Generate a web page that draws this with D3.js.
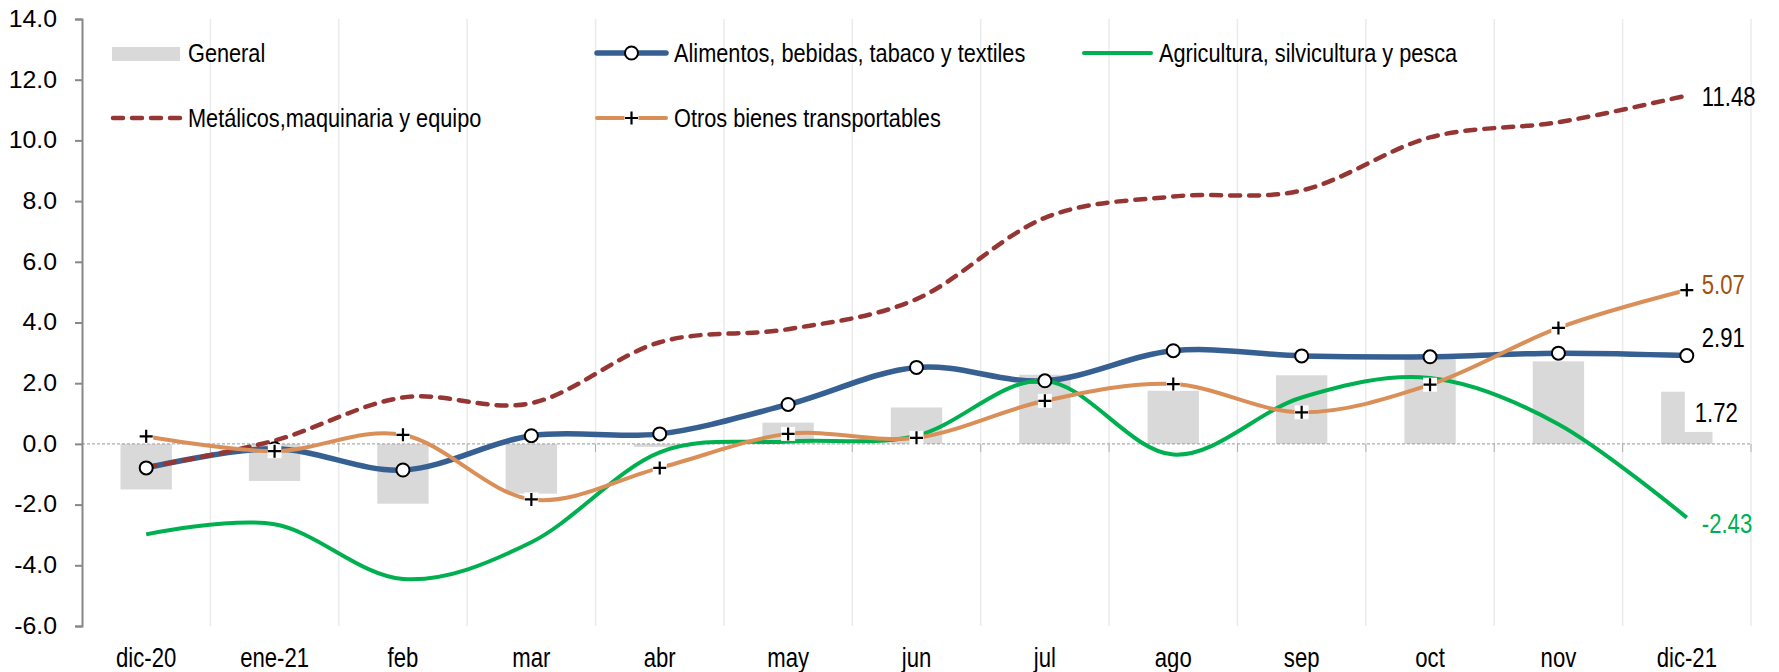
<!DOCTYPE html>
<html lang="es">
  <head>
    <meta charset="utf-8">
    <title>Variación anual</title>
    <script src="https://cdn.jsdelivr.net/npm/d3@7"></script>
    <style type="text/css">
      body { margin: 0; background: #fff; }
      text { font-family: "Liberation Sans", Arial, sans-serif; }
    </style>
  </head>
  <body>
    <script type="text/javascript">

    // data
    var months = ["dic-20", "ene-21", "feb", "mar", "abr", "may", "jun", "jul", "ago", "sep", "oct", "nov", "dic-21"];
    var general = [-1.5, -1.22, -1.97, -1.64, -0.1, 0.7, 1.2, 2.28, 1.75, 2.26, 2.8, 2.72, 1.72];
    var alimentos = [-0.79, -0.16, -0.86, 0.27, 0.33, 1.3, 2.52, 2.08, 3.07, 2.9, 2.87, 2.99, 2.91];
    var agricultura = [-2.98, -2.65, -4.45, -3.24, -0.28, 0.08, 0.27, 2.08, -0.35, 1.53, 2.17, 0.65, -2.43];
    var metalicos = [-0.77, 0.11, 1.53, 1.34, 3.35, 3.78, 4.77, 7.45, 8.15, 8.35, 10.1, 10.6, 11.48];
    var otros = [0.25, -0.24, 0.3, -1.83, -0.79, 0.33, 0.2, 1.42, 1.97, 1.04, 1.95, 3.82, 5.07];
    var yTicks = [-6, -4, -2, 0, 2, 4, 6, 8, 10, 12, 14];

    var w = 1779;
    var h = 672;

    // squeeze text horizontally (narrow face is not installed)
    function squeeze(sel, k) {
      sel.attr("transform", function() {
        var xx = +this.getAttribute("x") || 0;
        return "translate(" + xx + ",0) scale(" + k + ",1) translate(" + (-xx) + ",0)";
      });
    }

    var svg = d3.select("body")
                .append("svg")
                .attr("width", w)
                .attr("height", h);

    var x = d3.scaleBand().domain(months).range([82, 1751]);
    var y = d3.scaleLinear().domain([-6, 14]).range([626, 19]);
    var bw = x.bandwidth();
    function xc(m) { return x(m) + bw / 2; }

    // vertical gridlines at category boundaries
    svg.append("g").selectAll("line")
       .data(months)
       .enter()
       .append("line")
       .attr("x1", function(d) { return x(d) + bw; })
       .attr("x2", function(d) { return x(d) + bw; })
       .attr("y1", y(14))
       .attr("y2", y(-6))
       .attr("stroke", "#ebebeb")
       .attr("stroke-width", 1.5);

    // bars
    svg.append("g").selectAll("rect")
       .data(general)
       .enter()
       .append("rect")
       .attr("x", function(d, i) { return x(months[i]) + bw * 0.3; })
       .attr("width", bw * 0.4)
       .attr("y", function(d) { return y(Math.max(0, d)); })
       .attr("height", function(d) { return Math.abs(y(d) - y(0)); })
       .attr("fill", "#d9d9d9");

    // zero line with boundary ticks
    svg.append("line")
       .attr("x1", x.range()[0]).attr("x2", x.range()[1])
       .attr("y1", y(0)).attr("y2", y(0))
       .attr("stroke", "#9a9a9a")
       .attr("stroke-width", 1)
       .attr("stroke-dasharray", "3,2");
    svg.append("g").selectAll("line")
       .data(months)
       .enter()
       .append("line")
       .attr("x1", function(d) { return x(d) + bw; })
       .attr("x2", function(d) { return x(d) + bw; })
       .attr("y1", y(0))
       .attr("y2", y(0) + 8)
       .attr("stroke", "#b0b0b0")
       .attr("stroke-width", 1);

    // y axis
    var yAxis = svg.append("g")
       .attr("transform", "translate(82,0)")
       .call(d3.axisLeft(y).tickValues(yTicks).tickSize(7).tickPadding(18)
             .tickFormat(function(d) { return d.toFixed(1); }));
    yAxis.select(".domain").attr("stroke", "#888").attr("stroke-width", 2);
    yAxis.selectAll(".tick line").attr("stroke", "#888").attr("stroke-width", 2);
    yAxis.selectAll("text")
         .attr("font-family", "Liberation Sans, Arial, sans-serif")
         .attr("font-size", "23px")
         .attr("fill", "#000")
         .call(squeeze, 1.08);

    // x labels at the bottom
    var xAxis = svg.append("g")
       .attr("transform", "translate(0,667)")
       .call(d3.axisBottom(x).tickSize(0).tickPadding(0));
    xAxis.select(".domain").remove();
    xAxis.selectAll("text")
         .attr("dy", 0)
         .attr("y", 0)
         .attr("font-family", "Liberation Sans, Arial, sans-serif")
         .attr("font-size", "27px")
         .attr("fill", "#000")
         .call(squeeze, 0.82);

    // lines
    var line = d3.line()
       .x(function(d, i) { return xc(months[i]); })
       .y(function(d) { return y(d); })
       .curve(d3.curveCardinal.tension(0));

    svg.append("path").datum(alimentos).attr("d", line)
       .attr("fill", "none").attr("stroke", "#376092").attr("stroke-width", 5.5);
    svg.append("path").datum(agricultura).attr("d", line)
       .attr("fill", "none").attr("stroke", "#00b050").attr("stroke-width", 4);
    svg.append("path").datum(metalicos).attr("d", line)
       .attr("fill", "none").attr("stroke", "#963634").attr("stroke-width", 4.5)
       .attr("stroke-dasharray", "10,9").attr("stroke-linecap", "round");
    svg.append("path").datum(otros).attr("d", line)
       .attr("fill", "none").attr("stroke", "#d98f57").attr("stroke-width", 4);

    // markers
    svg.append("g").selectAll("circle")
       .data(alimentos)
       .enter()
       .append("circle")
       .attr("cx", function(d, i) { return xc(months[i]); })
       .attr("cy", function(d) { return y(d); })
       .attr("r", 6.5)
       .attr("fill", "#fff")
       .attr("stroke", "#000")
       .attr("stroke-width", 2);

    function plus(g, px, py, s) {
      g.append("rect").attr("x", px - 7).attr("y", py - 7)
       .attr("width", 14).attr("height", 14).attr("fill", "#fff");
      g.append("path")
       .attr("d", "M" + (px - s) + "," + py + "H" + (px + s) + "M" + px + "," + (py - s) + "V" + (py + s))
       .attr("stroke", "#000").attr("stroke-width", 2.2);
    }
    var pg = svg.append("g");
    otros.forEach(function(d, i) { plus(pg, xc(months[i]), y(d), 6.5); });

    // end labels
    var last = months[months.length - 1];
    var lx = xc(last);
    svg.append("rect")
       .attr("x", lx - 2).attr("y", y(general[12]) - 1)
       .attr("width", 60).attr("height", y(0) - y(general[12]) - 11)
       .attr("fill", "#fff");
    var labels = [
      { v: metalicos[12], dy: 11, c: "#000" },
      { v: otros[12], dy: 4, c: "#a0520f" },
      { v: alimentos[12], dy: -9, c: "#000" },
      { v: general[12], dy: 30, c: "#000", x: 8 },
      { v: agricultura[12], dy: 15, c: "#00b050" }
    ];
    svg.append("g").selectAll("text")
       .data(labels)
       .enter()
       .append("text")
       .attr("x", function(d) { return lx + (d.x || 15); })
       .attr("y", function(d) { return y(d.v) + d.dy; })
       .attr("font-size", "27px")
       .attr("fill", function(d) { return d.c; })
       .text(function(d) { return d.v.toFixed(2); })
       .call(squeeze, 0.82);

    // legend
    var lg = svg.append("g").attr("font-size", "26.5px");
    lg.append("rect").attr("x", 112).attr("y", 47).attr("width", 68).attr("height", 14).attr("fill", "#d9d9d9");
    lg.append("text").attr("x", 188).attr("y", 62).text("General");

    lg.append("line").attr("x1", 597).attr("x2", 666).attr("y1", 53).attr("y2", 53)
      .attr("stroke", "#376092").attr("stroke-width", 5.5).attr("stroke-linecap", "round");
    lg.append("circle").attr("cx", 631.5).attr("cy", 53).attr("r", 6.5)
      .attr("fill", "#fff").attr("stroke", "#000").attr("stroke-width", 2);
    lg.append("text").attr("x", 674).attr("y", 62).text("Alimentos, bebidas, tabaco y textiles");

    lg.append("line").attr("x1", 1084).attr("x2", 1151).attr("y1", 53).attr("y2", 53)
      .attr("stroke", "#00b050").attr("stroke-width", 4).attr("stroke-linecap", "round");
    lg.append("text").attr("x", 1159).attr("y", 62).text("Agricultura, silvicultura y pesca");

    lg.append("line").attr("x1", 113).attr("x2", 180).attr("y1", 118).attr("y2", 118)
      .attr("stroke", "#963634").attr("stroke-width", 4.5)
      .attr("stroke-dasharray", "10,9").attr("stroke-linecap", "round");
    lg.append("text").attr("x", 188).attr("y", 127.5).text("Metálicos,maquinaria y equipo");

    lg.append("line").attr("x1", 597).attr("x2", 666).attr("y1", 118).attr("y2", 118)
      .attr("stroke", "#d98f57").attr("stroke-width", 4).attr("stroke-linecap", "round");
    plus(lg, 631.5, 118, 6.5);
    lg.append("text").attr("x", 674).attr("y", 127.5).text("Otros bienes transportables");

    lg.selectAll("text").attr("fill", "#000").call(squeeze, 0.82);

    </script>
  </body>
</html>
